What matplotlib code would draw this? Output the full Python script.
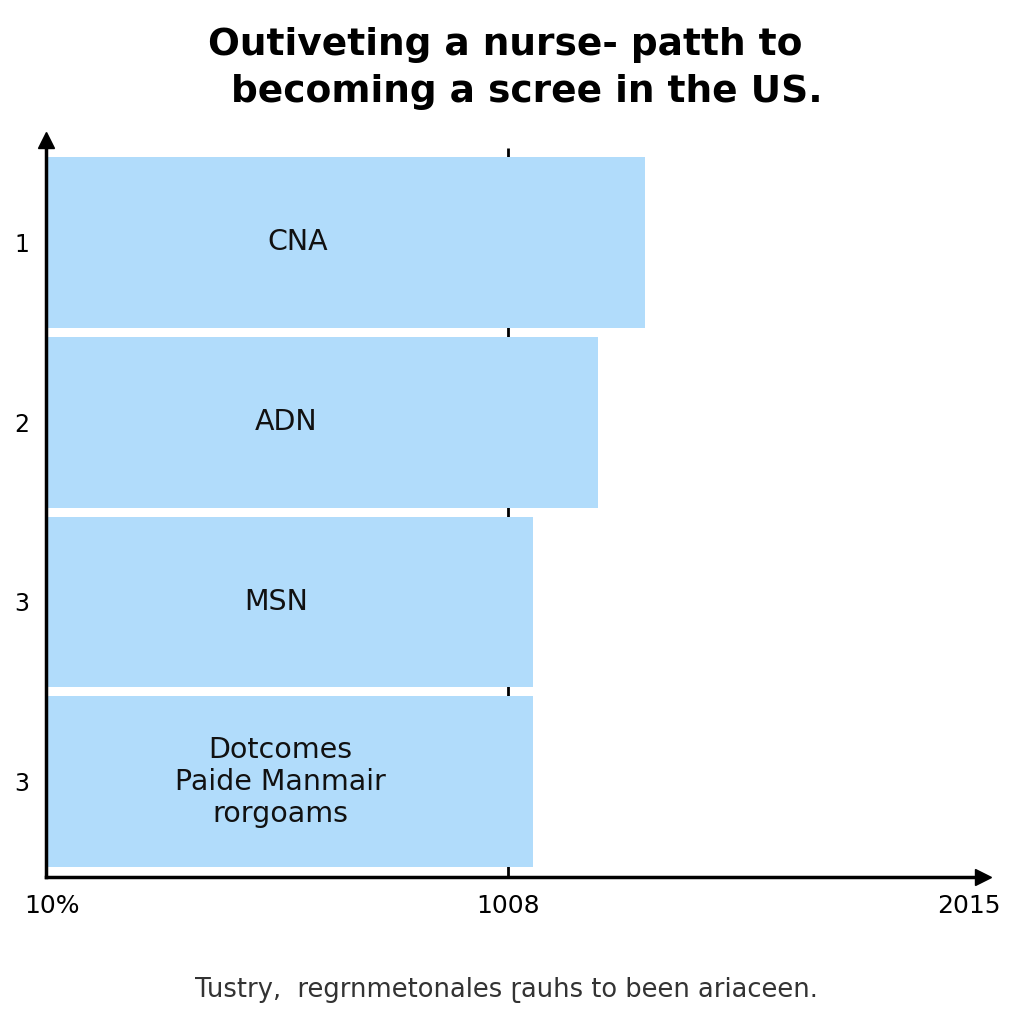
import matplotlib
matplotlib.use("Agg")
import matplotlib.pyplot as plt

# data
stages = ["CNA", "ADN", "MSN", "Dotcomes\nPaide Manmair\nrorgoams"]
ylabels = ["1", "2", "3", "3"]
values = [1308, 1205, 1063, 1063]
label_x = [550, 524, 502, 511]
xticks = [14, 1008, 2015]
xticklabels = ["10%", "1008", "2015"]
ref_x = 1008

bar_color = "#b1dcfb"

fig = plt.figure(figsize=(10.24, 10.24), dpi=100)
ax = fig.add_axes([46 / 1024, 1 - 877 / 1024, (983 - 46) / 1024, (877 - 140) / 1024])

ypos = list(range(len(stages)))
ax.vlines(ref_x, -0.52, 3.528, color="black", lw=2, zorder=0)
ax.barh(ypos, values, height=0.95, color=bar_color, zorder=2)

for y, name, lx in zip(ypos, stages, label_x):
    ax.text(lx, y, name, ha="center", va="center", fontsize=20.5,
            color="#111111", linespacing=1.18, zorder=3)

ax.set_xlim(0, 2045)
ax.set_ylim(3.528, -0.567)

ax.set_yticks(ypos)
ax.set_yticklabels(ylabels, fontsize=17)
ax.set_xticks(xticks)
ax.set_xticklabels(xticklabels, fontsize=18)
ax.tick_params(axis="both", length=0, pad=12)
ax.tick_params(axis="y", pad=12)

for s in ["top", "right"]:
    ax.spines[s].set_visible(False)
for s in ["left", "bottom"]:
    ax.spines[s].set_linewidth(2.5)
    ax.spines[s].set_zorder(4)

# arrow heads on the axes
ax.plot(1, 0, ">", color="black", markersize=12, transform=ax.transAxes, clip_on=False, zorder=5)
ax.plot(0, 1, "^", color="black", markersize=12, transform=ax.transAxes, clip_on=False, zorder=5)

fig.text(505 / 1024, 1 - 45 / 1024, "Outiveting a nurse- patth to", ha="center", va="center",
         fontsize=27, fontweight="bold")
fig.text(527 / 1024, 1 - 92 / 1024, "becoming a scree in the US.", ha="center", va="center",
         fontsize=27, fontweight="bold")
fig.text(506 / 1024, 1 - 990 / 1024, "Tustry,  regrnmetonales \u027dauhs to been ariaceen.",
         ha="center", va="center", fontsize=18.5, color="#333333")

fig.savefig("out.png", dpi=100, facecolor="white")
